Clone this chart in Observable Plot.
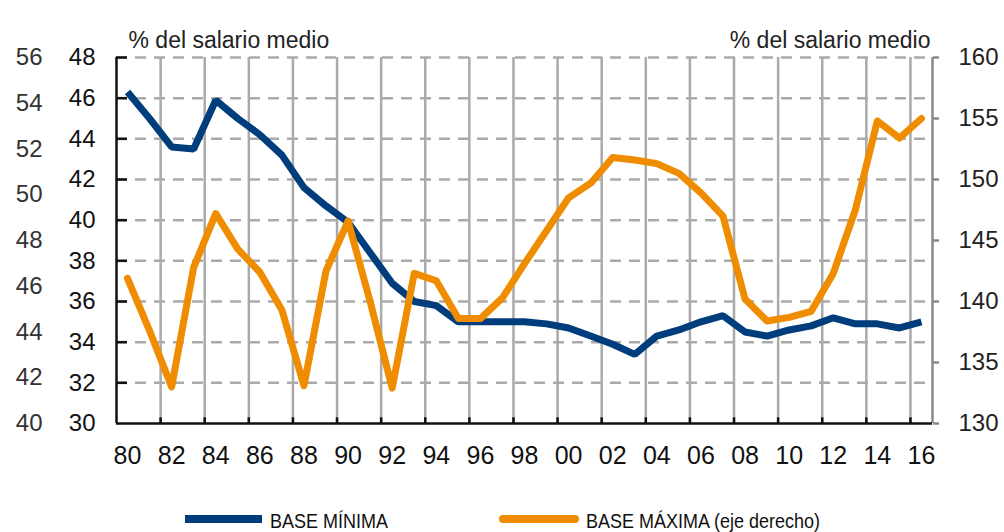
<!DOCTYPE html>
<html><head><meta charset="utf-8">
<script src="https://cdn.jsdelivr.net/npm/d3@7"></script>
<script src="https://cdn.jsdelivr.net/npm/@observablehq/plot@0.6"></script>
<style>
body{margin:0;background:#fff;}
#chart svg{display:block;}
</style>
</head><body><div id="chart"></div><script>
const years = [1980,1981,1982,1983,1984,1985,1986,1987,1988,1989,1990,1991,1992,1993,1994,1995,1996,1997,1998,1999,2000,2001,2002,2003,2004,2005,2006,2007,2008,2009,2010,2011,2012,2013,2014,2015,2016];
const baseMinima = [46.3,45.0,43.6,43.5,45.9,45.0,44.2,43.2,41.6,40.7,39.9,38.4,36.9,36.0,35.8,35.0,35.0,35.0,35.0,34.9,34.7,34.3,33.9,33.4,34.3,34.6,35.0,35.3,34.5,34.3,34.6,34.8,35.2,34.9,34.9,34.7,35.0];
const baseMaxima = [141.9,137.6,133.0,142.8,147.2,144.3,142.4,139.3,133.1,142.5,146.6,140.0,132.9,142.3,141.7,138.6,138.6,140.3,143.1,145.8,148.5,149.7,151.8,151.6,151.3,150.5,148.9,147.0,140.2,138.4,138.7,139.2,142.3,147.5,154.8,153.4,155.0];
const xTickYears = [1980,1982,1984,1986,1988,1990,1992,1994,1996,1998,2000,2002,2004,2006,2008,2010,2012,2014,2016];
const leftTicks = [30,32,34,36,38,40,42,44,46,48];
const outerLeftTicks = [40,42,44,46,48,50,52,54,56];
const rightTicks = [130,135,140,145,150,155,160];
const axisTitle = "% del salario medio";
const legendLabels = ["BASE MÍNIMA", "BASE MÁXIMA (eje derecho)"];
const colors = ["#003d7c", "#f08c00"];

const leftDomain = [leftTicks[0], leftTicks[leftTicks.length-1]];
const rightDomain = [rightTicks[0], rightTicks[rightTicks.length-1]];
const outerDomain = [outerLeftTicks[0], outerLeftTicks[outerLeftTicks.length-1]];
const toLeft = (v, d) => leftDomain[0] + (v - d[0]) * (leftDomain[1]-leftDomain[0]) / (d[1]-d[0]);
const fromLeft = (v, d) => d[0] + (v - leftDomain[0]) * (d[1]-d[0]) / (leftDomain[1]-leftDomain[0]);

const xDomain = [years[0]-0.5, years[years.length-1]+0.5];
const gridX = xTickYears.slice(0,-1).map(y => y + 1.5);
const gridY = leftTicks.slice(1);
const data = years.map((yr,i) => ({yr, minv: baseMinima[i], maxv: toLeft(baseMaxima[i], rightDomain)}));
const font = "'Liberation Sans', Arial, sans-serif";

const chart = Plot.plot({
  width: 1004, height: 480,
  marginLeft: 116, marginRight: 72, marginTop: 57, marginBottom: 57,
  style: {fontFamily: font, fontSize: "24px", color: "#111", background: "#fff"},
  x: {type: "linear", domain: xDomain},
  y: {domain: leftDomain},
  marks: [
    Plot.ruleX(gridX, {stroke: "#aaa", strokeWidth: 2.5}),
    Plot.ruleY(gridY, {stroke: "#aaa", strokeWidth: 2.5, strokeDasharray: "11,8"}),
    Plot.ruleY(gridY, {x1: xDomain[0], x2: xDomain[0] + 0.5, stroke: "#111", strokeWidth: 2.5}),
    Plot.ruleX(gridX, {y1: leftDomain[0], y2: leftDomain[0] + 0.28, stroke: "#111", strokeWidth: 2.5}),
    Plot.ruleX([xDomain[1]], {stroke: "#8a8a8a", strokeWidth: 2.5}),
    Plot.ruleX([xDomain[0]], {stroke: "#111", strokeWidth: 2.5}),
    Plot.ruleY([leftDomain[0]], {stroke: "#111", strokeWidth: 2.5}),
    Plot.line(data, {x: "yr", y: "minv", stroke: colors[0], strokeWidth: 7, strokeLinejoin: "miter", strokeLinecap: "butt"}),
    Plot.line(data, {x: "yr", y: "maxv", stroke: colors[1], strokeWidth: 7, strokeLinejoin: "round", strokeLinecap: "round"}),
    Plot.axisX({ticks: xTickYears, tickFormat: d => String(d % 100).padStart(2, "0"), tickSize: 0, tickPadding: 23, fontSize: 25, label: null}),
    Plot.axisY({anchor: "left", ticks: leftTicks, tickSize: 0, tickPadding: 21, fontSize: 24, label: null}),
    Plot.axisY({anchor: "left", ticks: outerLeftTicks.map(v => toLeft(v, outerDomain)), tickFormat: d => String(Math.round(fromLeft(d, outerDomain))), tickSize: 0, tickPadding: 74, fontSize: 24, fill: "#333", label: null}),
    Plot.axisY({anchor: "right", ticks: rightTicks.map(v => toLeft(v, rightDomain)), tickFormat: d => String(Math.round(fromLeft(d, rightDomain))), tickSize: 6, tickPadding: 20, stroke: "#8a8a8a", strokeWidth: 2.5, fontSize: 24, fill: "#222", label: null}),
    Plot.text([axisTitle], {frameAnchor: "top-left", textAnchor: "start", lineAnchor: "bottom", dx: 12, dy: -10, fontSize: 23, fill: "#222"}),
    Plot.text([axisTitle], {frameAnchor: "top-right", textAnchor: "end", lineAnchor: "bottom", dx: -2, dy: -10, fontSize: 23, fill: "#222"})
  ]
});
document.getElementById("chart").appendChild(chart);

// legend below the chart
const ns = "http://www.w3.org/2000/svg";
const leg = document.createElementNS(ns, "svg");
leg.setAttribute("width", 1004); leg.setAttribute("height", 52);
leg.style.display = "block";
const legItems = [
  {label: legendLabels[0], color: colors[0], x0: 185, x1: 262, tx: 270, tw: 118, cap: "butt"},
  {label: legendLabels[1], color: colors[1], x0: 503, x1: 575, tx: 586, tw: 234, cap: "round"}
];
for (const it of legItems) {
  const l = document.createElementNS(ns, "line");
  l.setAttribute("x1", it.x0); l.setAttribute("x2", it.x1);
  l.setAttribute("y1", 39); l.setAttribute("y2", 39);
  l.setAttribute("stroke", it.color); l.setAttribute("stroke-width", 8);
  l.setAttribute("stroke-linecap", it.cap);
  leg.appendChild(l);
  const t = document.createElementNS(ns, "text");
  t.setAttribute("x", it.tx); t.setAttribute("y", 48);
  t.setAttribute("font-family", "'Liberation Sans Narrow', 'Liberation Sans', Arial, sans-serif");
  t.setAttribute("font-size", 21);
  t.setAttribute("fill", "#111");
  t.setAttribute("textLength", it.tw);
  t.setAttribute("lengthAdjust", "spacingAndGlyphs");
  t.textContent = it.label;
  leg.appendChild(t);
}
document.getElementById("chart").appendChild(leg);
</script></body></html>
